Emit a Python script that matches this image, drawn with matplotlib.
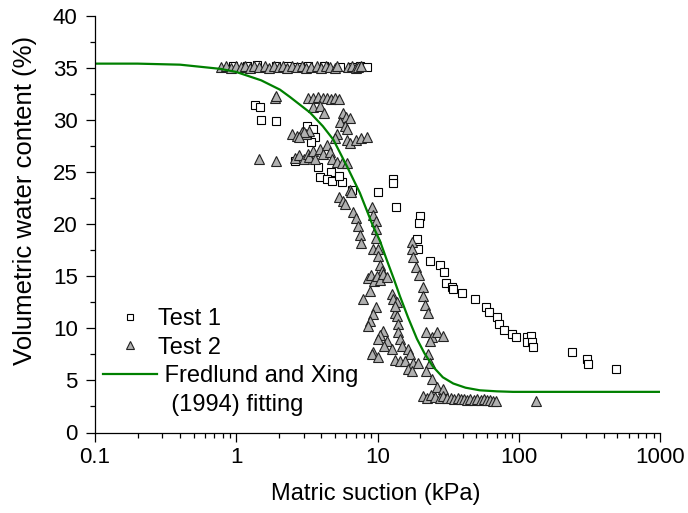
import matplotlib
matplotlib.use("Agg")
import matplotlib.pyplot as plt
from matplotlib.lines import Line2D
from matplotlib.ticker import MultipleLocator, LogLocator, NullFormatter, FixedLocator

plt.rcParams['font.family'] = ['Liberation Sans', 'DejaVu Sans']

# Test 1 (squares)
t1_x = [0.95, 1.2, 1.4, 1.9, 2.3, 2.7, 3.2, 4.2, 5.4, 6.6, 7.5, 8.4,
        1.35, 1.47, 1.5, 1.9,
        2.6, 3.16, 3.5, 3.6, 3.4, 3.8, 4.7, 3.9, 4.4, 4.8, 5.6, 5.3, 6.6, 10, 12.8, 12.8, 13.5,
        20, 19.6, 19, 19.4, 23.5, 27.7, 29.5, 30.5, 33.5, 34.3, 39.5, 49.4, 59.1, 61.1,
        70.4, 72, 78.1, 89, 95, 115, 123, 115, 124, 126, 240, 306, 311, 490]
t1_y = [35.2, 35.2, 35.3, 35.2, 35.2, 35.1, 35.2, 35.2, 35.1, 35.1, 35.2, 35.1,
        31.4, 31.2, 30.0, 29.9,
        26.1, 29.4, 29.1, 28.4, 27.9, 25.5, 25.0, 24.5, 24.3, 24.1, 24.0, 24.6, 23.3, 23.1, 24.3, 23.9, 21.6,
        20.8, 20.1, 18.6, 17.6, 16.5, 16.1, 15.4, 14.3, 14.0, 13.8, 13.4, 12.8, 12.0, 11.6,
        11.1, 10.4, 9.8, 9.5, 9.2, 9.2, 9.3, 8.7, 8.7, 8.2, 7.7, 7.1, 6.6, 6.1]

# Test 2 (triangles)
t2_x = [0.78, 0.85, 0.92, 1.0, 1.08, 1.15, 1.25, 1.33, 1.45, 1.6, 1.7, 1.85, 2.0, 2.15, 2.3,
        2.5, 2.7, 2.9, 3.1, 3.4, 3.7, 4.0, 4.3, 4.6, 5.0, 5.2, 6.2, 6.6, 7.0, 7.3, 7.7,
        1.88, 1.9, 1.45, 1.9,
        2.5, 2.7, 2.9, 3.1, 3.3, 3.0, 2.8,
        2.6, 2.8, 3.0, 3.2, 3.3, 3.5, 3.6, 3.9, 4.1, 4.4, 4.6, 4.8, 5.2, 5.6, 6.1,
        3.2, 3.5, 3.8, 4.1, 4.4, 4.7, 5.0, 5.3, 3.5, 3.9, 4.2, 5.7, 6.0, 6.4, 5.4, 5.9, 6.1,
        5.2, 5.0, 6.1, 6.4, 7.1, 7.7, 8.4,
        5.3, 6.4, 5.7,
        6.5, 5.9, 6.7, 7.1, 7.3, 7.5, 7.7,
        9.2, 9.3, 9.7, 9.8, 9.7, 9.3, 10.1, 10.1, 10.4, 10.7,
        8.5, 9.0, 9.4, 9.9, 10.5, 11.0, 11.6,
        8.8, 7.9, 9.7, 9.3, 12.6, 12.8, 13.7, 13.3,
        17.6, 17.6, 17.8, 18.6, 19.6, 21.0, 21.0, 21.7, 22.6,
        8.8, 8.6, 10.9, 10.4, 10.1, 11.6, 11.1, 12.6, 9.3, 9.1, 10.1,
        13.3, 13.7, 13.9, 13.9, 14.4, 14.9, 16.4, 17.0, 13.3, 14.4, 15.6, 17.8, 19.4, 16.4, 17.6,
        22.2, 24.5, 26.3, 28.9, 23.5, 22.6, 23.5, 22.2, 24.5, 26.3, 28.9,
        21, 22.5, 24, 25.5, 27.5, 29, 31,
        33, 35, 37, 39, 41, 43, 45, 48, 51, 54, 57, 60, 63, 66, 69, 132]
t2_y = [35.1, 35.2, 35.0, 35.2, 35.1, 35.2, 35.0, 35.2, 35.1, 35.2, 35.0, 35.2, 35.1, 35.2, 35.0,
        35.2, 35.1, 35.2, 35.0, 35.1, 35.2, 35.0, 35.2, 35.1, 35.0, 35.2, 35.1, 35.2, 35.0, 35.1, 35.2,
        32.1, 32.3, 26.2, 26.1,
        28.6, 28.5, 28.8, 28.6, 28.9, 28.8, 28.4,
        26.3, 26.6, 26.2, 26.7, 26.4, 27.0, 26.2, 27.2, 26.7, 27.6, 26.9, 26.2, 26.0, 25.9, 25.9,
        32.1, 32.1, 32.2, 32.1, 32.1, 32.0, 32.1, 32.0, 31.2, 31.3, 30.7, 30.7, 30.3, 30.2, 29.8, 29.4, 29.1,
        28.6, 28.3, 28.1, 27.8, 28.1, 28.3, 28.4,
        22.6, 23.3, 22.2,
        23.1, 21.9, 21.2, 20.6, 19.8, 19.0, 18.2,
        21.6, 20.9, 20.3, 19.5, 18.7, 17.6, 17.6, 16.9, 16.1, 15.5,
        14.8, 15.1, 14.5, 15.0, 14.6, 15.2, 14.9,
        13.6, 12.8, 12.0, 11.4, 13.3, 12.8, 12.5, 11.5,
        18.3, 17.6, 16.8, 15.9, 15.1, 14.0, 13.1, 12.2, 11.5,
        10.7, 10.2, 9.7, 9.4, 9.0, 8.8, 8.3, 8.0, 7.7, 7.5, 7.2,
        12.1, 11.2, 10.4, 9.6, 9.0, 8.3, 8.0, 7.5, 7.0, 6.9, 6.9, 6.7, 6.7, 6.1, 5.9,
        9.6, 9.2, 9.6, 9.3, 8.8, 7.5, 6.7, 5.9, 5.1, 4.4, 4.2,
        3.5, 3.3, 3.6, 3.4, 3.3, 3.5, 3.3,
        3.3, 3.2, 3.3, 3.2, 3.2, 3.1, 3.2, 3.1, 3.2, 3.1, 3.2, 3.1, 3.1, 3.0, 3.0, 3.0]

# Fredlund and Xing (1994) fitting curve
fit_x = [0.1, 0.2, 0.4, 0.77, 1.0, 1.5, 2.04, 2.4, 3.33, 4.1, 4.87, 6.1, 7.5, 9.3, 10.4,
         11.6, 13.0, 14.4, 16.5, 19.0, 21.5, 24.8, 29.0, 34.4, 42.0, 53, 70, 91, 200, 1000]
fit_y = [35.4, 35.4, 35.3, 34.9, 34.6, 33.8, 32.9, 32.2, 30.7, 29.4, 28.1, 25.5, 23.0, 19.8, 18.4,
         16.6, 14.8, 13.1, 11.0, 9.0, 7.6, 6.3, 5.3, 4.7, 4.3, 4.05, 3.95, 3.9, 3.9, 3.9]

fig = plt.figure(figsize=(6.88, 5.13), dpi=100)
ax = fig.add_axes([95 / 688, 1 - 432.5 / 513, 565 / 688, 416.8 / 513])

ax.plot(t1_x, t1_y, linestyle='none', marker='s', ms=6.2, mfc='white', mec='black', mew=0.8,
        label='Test 1')
ax.plot(t2_x, t2_y, linestyle='none', marker='^', ms=7.8, mfc='#b0b0b0', mec='#222222', mew=0.8,
        label='Test 2')
ax.plot(fit_x, fit_y, color='#008000', lw=1.6, label=' Fredlund and Xing')
blank = Line2D([], [], linestyle='none')

ax.set_xscale('log')
ax.set_xlim(0.1, 1000)
ax.set_ylim(0, 40)
ax.xaxis.set_major_locator(FixedLocator([0.1, 1, 10, 100, 1000]))
ax.set_xticklabels(['0.1', '1', '10', '100', '1000'])
ax.xaxis.set_minor_locator(LogLocator(base=10, subs=range(2, 10)))
ax.xaxis.set_minor_formatter(NullFormatter())
ax.yaxis.set_major_locator(MultipleLocator(5))
ax.yaxis.set_minor_locator(MultipleLocator(2.5))

for s in ['top', 'right']:
    ax.spines[s].set_visible(False)
for s in ['left', 'bottom']:
    ax.spines[s].set_linewidth(0.9)
ax.tick_params(which='major', length=6.5, width=0.9, labelsize=16, direction='out')
ax.tick_params(which='minor', length=3.5, width=0.9, direction='out')
ax.tick_params(axis='x', pad=4)
ax.tick_params(axis='y', pad=6)

ax.set_xlabel('Matric suction (kPa)', fontsize=17)
ax.set_ylabel('Volumetric water content (%)', fontsize=18.5)
ax.xaxis.set_label_coords(0.497, -0.122)
ax.yaxis.set_label_coords(-0.103, 0.556)

h, l = ax.get_legend_handles_labels()
leg = ax.legend(h + [blank], l + ['  (1994) fitting'], loc='upper left',
                bbox_to_anchor=(103 / 688, 1 - 308 / 513), bbox_transform=fig.transFigure,
                frameon=False, fontsize=17, handlelength=2.3, handletextpad=0.05,
                borderpad=0, borderaxespad=0, labelspacing=0.28, markerscale=0.75, numpoints=1)

fig.savefig('out.png', dpi=100)
